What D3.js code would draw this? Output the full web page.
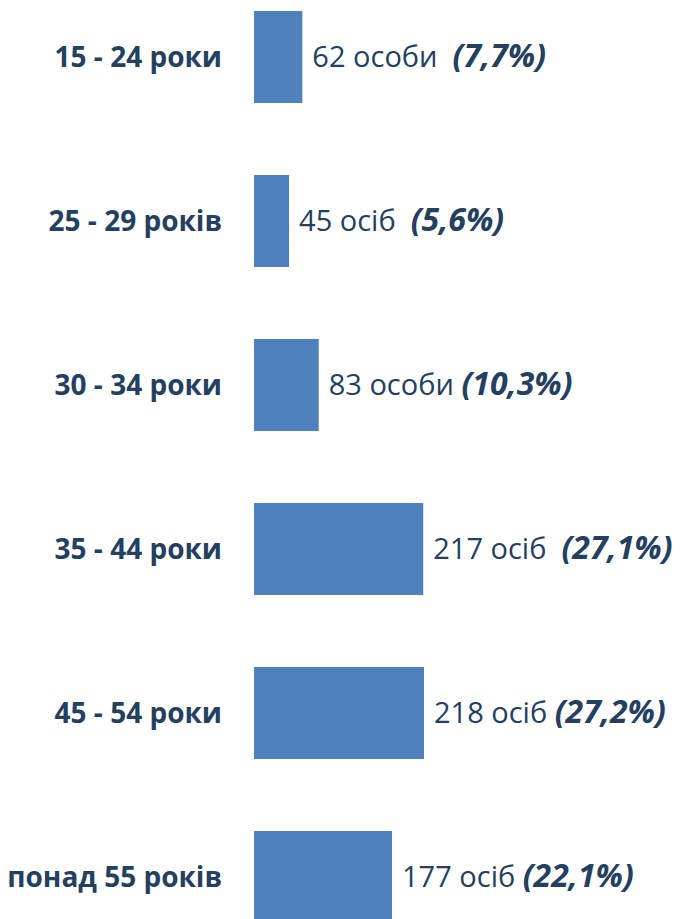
<!DOCTYPE html>
<html>
<head>
<meta charset="utf-8">
<script src="https://cdn.jsdelivr.net/npm/d3@7"></script>
<style>
  body { margin: 0; background: #fff; }
  text { font-family: "Open Sans", sans-serif; fill: #243f60; white-space: pre; }
</style>
</head>
<body>
<div id="chart"></div>
<script>
// age groups
var categories = ["15 - 24 роки", "25 - 29 років", "30 - 34 роки", "35 - 44 роки", "45 - 54 роки", "понад 55 років"];
var counts = [62, 45, 83, 217, 218, 177];
var countLabels = ["62 особи  ", "45 осіб  ", "83 особи ", "217 осіб  ", "218 осіб ", "177 осіб "];
var percentLabels = ["(7,7%)", "(5,6%)", "(10,3%)", "(27,1%)", "(27,2%)", "(22,1%)"];

var width = 683;
var height = 919;

var data = categories.map(function (c, i) {
    return { name: c, count: counts[i], countLabel: countLabels[i], pct: percentLabels[i] };
});

var svg = d3.select("#chart")
            .append("svg")
            .attr("width", width)
            .attr("height", height);

var x = d3.scaleLinear()
            .domain([0, 218])
            .range([254, 424]);

var y = d3.scaleBand()
            .domain(categories)
            .range([-25, 959])
            .paddingInner(0.439)
            .paddingOuter(0.2195);

var row = svg.selectAll("g.row")
            .data(data)
            .enter()
            .append("g")
            .attr("class", "row");

row.append("rect")
    .attr("x", x(0))
    .attr("y", function (d) { return y(d.name); })
    .attr("width", function (d) { return x(d.count) - x(0); })
    .attr("height", y.bandwidth())
    .attr("fill", "#4f81bd");

// category labels on the left
row.append("text")
    .attr("x", 222)
    .attr("y", function (d) { return y(d.name) + y.bandwidth() / 2; })
    .attr("dy", "0.36em")
    .attr("text-anchor", "end")
    .style("font-size", "28px")
    .style("font-weight", "bold")
    .text(function (d) { return d.name; });

// value labels
var vl = row.append("text")
    .attr("x", function (d) { return x(d.count) + 10; })
    .attr("y", function (d) { return y(d.name) + y.bandwidth() / 2; })
    .attr("dy", "0.36em")
    .style("font-size", "29px");

vl.append("tspan")
    .text(function (d) { return d.countLabel; });

vl.append("tspan")
    .style("font-weight", "bold")
    .style("font-style", "italic")
    .style("font-size", "32px")
    .text(function (d) { return d.pct; });
</script>
</body>
</html>
